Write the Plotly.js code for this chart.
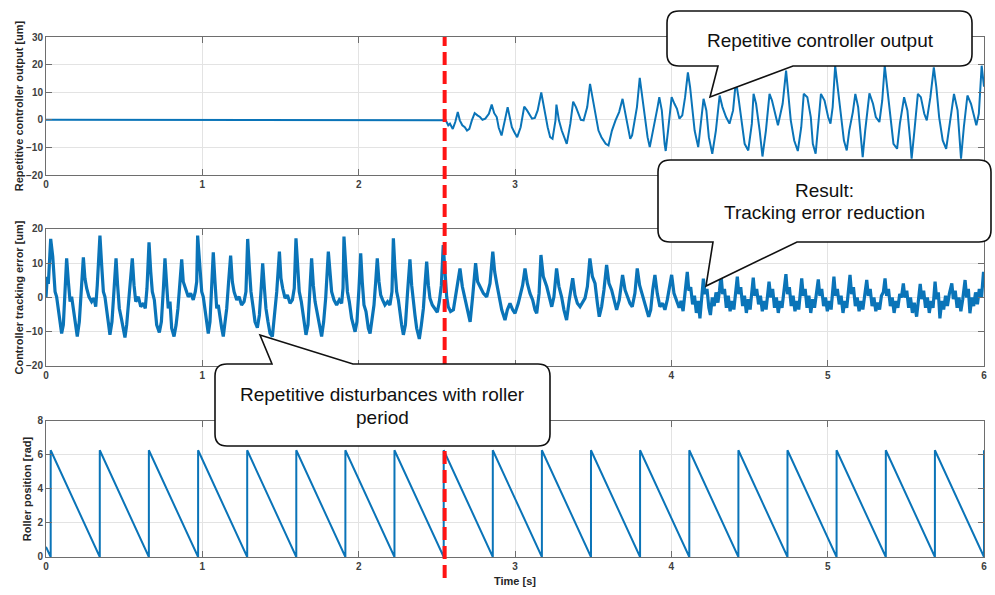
<!DOCTYPE html>
<html><head><meta charset="utf-8">
<script src="https://cdn.plot.ly/plotly-3.0.1.min.js"></script>
<style>html,body{margin:0;padding:0;background:#fff}#chart{width:995px;height:595px}</style>
</head><body><div id="chart"></div>
<script>
// ---------------- DATA ----------------
const eventTime = 2.55;   // switch-on time of the repetitive controller [s]

const outputT = [0,2.55,2.557,2.573,2.584,2.602,2.618,2.634,2.647,2.663,2.679,2.693,2.708,2.724,2.742,2.760,2.776,2.792,2.810,2.833,2.851,2.867,2.883,2.896,2.914,2.935,2.953,2.964,2.980,2.996,3.014,3.036,3.059,3.077,3.093,3.109,3.127,3.145,3.168,3.183,3.195,3.209,3.225,3.240,3.259,3.265,3.281,3.299,3.315,3.331,3.354,3.372,3.390,3.406,3.421,3.439,3.462,3.480,3.496,3.519,3.534,3.553,3.580,3.598,3.620,3.643,3.666,3.688,3.703,3.721,3.737,3.749,3.764,3.780,3.798,3.817,3.832,3.848,3.862,3.889,3.912,3.923,3.939,3.957,3.964,3.979,4.002,4.020,4.036,4.052,4.070,4.088,4.106,4.120,4.133,4.149,4.172,4.183,4.206,4.224,4.240,4.262,4.285,4.309,4.327,4.350,4.372,4.395,4.413,4.429,4.447,4.469,4.492,4.515,4.526,4.542,4.565,4.583,4.605,4.628,4.644,4.666,4.682,4.712,4.734,4.750,4.764,4.786,4.809,4.831,4.847,4.870,4.892,4.905,4.923,4.946,4.957,4.980,5.003,5.018,5.032,5.048,5.064,5.082,5.104,5.122,5.138,5.161,5.177,5.195,5.213,5.224,5.240,5.267,5.290,5.308,5.331,5.349,5.365,5.380,5.398,5.421,5.444,5.462,5.489,5.510,5.528,5.537,5.555,5.577,5.596,5.618,5.634,5.657,5.679,5.695,5.713,5.736,5.758,5.781,5.808,5.831,5.844,5.853,5.871,5.894,5.917,5.935,5.951,5.967,5.985,6.0];
const outputV = [0,0,-0.2,-2.0,-1.4,-3.3,-0.8,2.8,-0.2,-2.0,-2.7,-3.9,-3.3,-0.2,2.4,1.6,1.0,0,0.4,2.2,5.5,2.4,1.0,-2.9,-5.7,-0.2,4.6,1.6,-2.7,-4.5,-6.3,-2.7,4.8,3.4,1.6,0.4,0.7,3.4,9.9,4.6,1.6,-2.7,-6.3,-6.9,-0.2,5.5,-0.2,-3.9,-6.3,-8.7,-1.4,6.6,4.6,2.2,0,-0.2,4.6,13.0,7.6,1.0,-3.9,-6.3,-8.7,-9.3,-3.9,-0.2,2.8,7.6,3.4,-1.4,-6.9,-5.7,-0.2,4.6,15.2,7.0,-0.2,-6.3,-9.9,-2.7,4.6,8.2,3.4,-8.7,-11.3,-3.9,8.2,5.8,4.0,0.4,1.6,8.2,17.2,11.8,4.6,-3.9,-9.9,-4.5,7.6,3.4,-6.3,-12.3,-3.9,8.8,4.6,1.0,-1.4,3.4,14.2,8.2,-0.2,-8.7,-11.1,-1.4,9.4,5.8,-3.9,-13.3,-3.9,9.4,7.0,2.2,-2.0,5.8,17.8,8.2,-0.2,-7.5,-11.3,-2.7,9.4,8.2,1.0,-8.7,-12.3,2.2,9.4,7.0,1.0,-1.4,4.6,19.6,11.8,2.2,-7.5,-11.1,-3.9,2.8,9.4,4.6,-6.3,-13.5,-3.9,9.6,5.8,1.0,-0.8,7.0,19.6,11.8,1.0,-8.7,-10.5,-1.4,8.2,3.4,-7.5,-14.1,-3.9,9.4,8.2,2.2,-0.2,8.2,19.0,11.8,1.0,-7.5,-10.5,-1.4,9.4,3.4,-8.7,-14.1,-2.7,8.8,5.8,1.0,-2.0,2.2,19.6,12];

const errorT = [0,0.008,0.015,0.022,0.030,0.043,0.058,0.068,0.079,0.090,0.100,0.111,0.122,0.132,0.143,0.154,0.164,0.175,0.188,0.200,0.213,0.226,0.239,0.249,0.260,0.275,0.292,0.307,0.318,0.328,0.345,0.356,0.367,0.377,0.388,0.399,0.409,0.422,0.435,0.448,0.458,0.469,0.482,0.495,0.505,0.516,0.529,0.539,0.552,0.563,0.574,0.591,0.606,0.623,0.635,0.646,0.659,0.670,0.680,0.693,0.708,0.725,0.738,0.751,0.761,0.772,0.782,0.793,0.804,0.819,0.832,0.844,0.857,0.868,0.878,0.891,0.910,0.925,0.942,0.955,0.964,0.970,0.983,0.996,1.006,1.017,1.028,1.038,1.049,1.060,1.070,1.081,1.092,1.102,1.113,1.124,1.134,1.145,1.156,1.168,1.181,1.192,1.203,1.220,1.235,1.251,1.267,1.279,1.290,1.301,1.311,1.326,1.337,1.352,1.365,1.375,1.386,1.397,1.407,1.420,1.433,1.448,1.461,1.476,1.493,1.503,1.514,1.529,1.544,1.561,1.576,1.588,1.599,1.610,1.620,1.633,1.646,1.663,1.676,1.689,1.699,1.710,1.721,1.733,1.748,1.763,1.776,1.789,1.806,1.817,1.827,1.842,1.859,1.876,1.891,1.900,1.906,1.917,1.928,1.940,1.955,1.977,1.989,2.002,2.013,2.023,2.034,2.047,2.062,2.073,2.085,2.098,2.109,2.119,2.130,2.141,2.153,2.168,2.185,2.200,2.213,2.222,2.232,2.243,2.254,2.264,2.275,2.286,2.299,2.313,2.328,2.339,2.350,2.360,2.371,2.388,2.401,2.414,2.424,2.435,2.446,2.456,2.471,2.488,2.503,2.516,2.529,2.541,
2.553,2.563,2.573,2.588,2.606,2.623,2.648,2.663,2.680,2.695,2.713,2.729,2.748,2.761,2.776,2.798,2.819,2.840,2.858,2.870,2.883,2.900,2.915,2.936,2.951,2.968,2.985,3.000,3.021,3.049,3.064,3.079,3.096,3.113,3.128,3.139,3.154,3.166,3.181,3.203,3.220,3.235,3.249,3.266,3.281,3.298,3.313,3.330,3.347,3.369,3.384,3.399,3.416,3.433,3.448,3.463,3.479,3.495,3.512,3.527,3.539,3.554,3.569,3.586,3.601,3.618,3.633,3.650,3.667,3.688,3.704,3.718,3.735,3.750,3.767,3.782,3.797,3.812,3.827,3.842,3.855,3.868,3.881,3.895,3.910,3.927,3.944,3.959,3.974,3.991,4.002,4.017,4.034,
4.050,4.062,4.075,4.088,4.102,4.112,4.124,4.136,4.148,4.160,4.172,4.183,4.195,4.205,4.216,4.228,4.240,4.250,4.262,4.274,4.286,4.298,4.308,4.318,4.328,4.340,4.352,4.364,4.376,4.388,4.400,4.412,4.422,4.432,4.444,4.456,4.468,4.480,4.492,4.504,4.514,4.524,4.534,4.546,4.558,4.570,4.582,4.594,4.606,4.616,4.625,4.636,4.648,4.660,4.672,4.684,4.696,4.708,4.720,4.733,4.743,4.755,4.767,4.779,4.791,4.803,4.815,4.825,4.834,4.844,4.856,4.868,4.880,4.892,4.904,4.916,4.928,4.940,4.950,4.962,4.974,4.986,4.998,5.010,5.022,5.032,5.040,5.050,5.062,5.074,5.086,5.098,5.110,5.122,5.134,5.143,5.153,5.165,5.177,5.189,5.201,5.213,5.225,5.237,5.250,5.260,5.272,5.284,5.296,5.308,5.320,5.332,5.344,5.356,5.367,5.377,5.389,5.401,5.413,5.425,5.437,5.449,5.461,5.472,5.484,5.494,5.506,5.518,5.530,5.542,5.554,5.569,5.581,5.592,5.602,5.614,5.626,5.638,5.650,5.662,5.674,5.687,5.697,5.708,5.718,5.730,5.742,5.754,5.766,5.778,5.794,5.804,5.816,5.828,5.840,5.852,5.864,5.879,5.889,5.900,5.910,5.922,5.934,5.946,5.958,5.970,5.984,5.997,6.0];
const errorV = [0,6,4,10,17.1,12,1.7,0.2,-4.1,-7.1,-10.5,-8.0,1.7,11.4,4.6,-1.2,0.2,-3.2,-8.0,-11.4,-7.1,1.7,11.7,5.6,2.7,0.2,-1.2,-0.2,-2.7,3.6,18.1,9.5,1.7,0.2,-4.1,-8.0,-10.9,-7.1,2.7,11.4,3.6,-3.2,-6.1,-10.0,-11.7,-8.0,-1.2,4.6,11.4,3.6,-1.2,0.2,-2.7,-1.7,-3.2,2.7,16.1,7.5,1.7,-0.7,-8.0,-10.2,-7.1,2.7,11.4,3.6,-3.2,-1.2,-9.0,-11.4,-8.0,-3.2,3.6,11.1,4.6,2.7,0.2,1.2,-0.7,1.7,4.6,18.1,9.5,1.7,0.2,-4.1,-8.0,-10.5,-7.1,3.6,13.2,4.6,-3.2,-2.2,-6.6,-9.0,-11.4,-8.0,-3.2,4.6,12.2,4.6,1.7,-0.7,0.2,-2.2,-1.2,1.7,17.1,8.5,1.7,-3.2,-7.1,-8.8,-5.1,1.7,10.0,2.7,-3.2,-7.1,-10.5,-11.4,-6.1,1.7,13.4,5.6,2.7,-0.2,0.7,-1.7,-0.7,2.7,17.3,8.5,1.7,-1.2,-6.1,-10.9,-8.0,1.7,11.4,3.6,-1.2,-4.1,-8.0,-11.4,-7.1,-0.2,13.4,5.6,1.7,-0.7,-2.2,-0.7,-1.7,2.7,17.8,9.5,1.7,-1.2,-6.1,-10.0,-7.1,2.7,12.9,4.6,-2.2,-4.1,-9.0,-10.5,-7.1,-2.2,4.6,11.4,4.6,0.7,-0.7,-2.2,-1.2,-2.2,1.7,17.3,8.5,1.7,-0.7,-5.1,-8.0,-10.9,-8.0,1.7,11.1,3.6,-2.2,-5.1,-9.0,-12.1,-8.0,-3.2,3.6,10.5,3.6,-0.2,-2.2,-3.2,-4.3,-1.2,3.6,15.3,
6.1,0.2,-2.7,-4.1,-3.6,1.2,8.5,3.2,-0.7,-3.6,-7.1,0.2,10.0,4.6,3.2,1.2,0.2,4.1,13.4,7.5,4.1,0.2,-3.6,-6.6,-3.6,-1.7,-3.6,-4.6,-1.7,3.6,8.5,4.1,1.2,-0.7,-3.6,-4.6,1.2,12.4,6.1,3.2,-0.2,-2.7,0.2,8.5,3.2,0.2,-3.6,-6.6,-0.7,5.6,0.7,-1.7,-2.7,-1.2,-0.2,3.2,11.4,6.1,4.1,-1.7,-5.6,-2.7,2.2,9.5,4.1,2.2,-0.7,-3.6,-0.7,6.6,2.2,0.7,-1.7,-2.7,1.2,8.5,3.6,1.2,-1.7,-3.6,-5.6,-3.6,2.2,6.6,1.2,-2.7,-1.7,-3.6,-0.7,3.2,6.6,1.2,-0.7,
-3.0,-1.0,-4.0,1.5,7.5,2.0,3.0,-2.0,0.5,-4.5,-1.0,-6.1,0.5,5.5,1.0,2.5,-3.0,-5.1,0.0,-2.5,1.5,-1.5,2.0,6.6,1.0,2.5,-3.0,0.5,-4.0,-1.0,-3.5,1.5,6.1,1.0,3.0,-2.5,0.5,-4.5,-0.5,-3.5,1.0,5.8,0.5,2.5,-2.0,0.5,-4.0,-1.0,-3.5,1.5,4.6,0.0,2.5,-3.0,0.0,-4.5,-1.0,-3.0,2.0,6.8,1.0,3.0,-2.5,0.5,-4.0,-1.0,-3.5,1.5,5.6,0.5,2.5,-3.0,0.5,-4.5,-0.5,-3.0,1.5,5.3,0.5,2.5,-2.5,0.0,-4.0,-1.0,-3.5,2.0,6.1,0.5,2.5,-2.0,0.5,-4.5,-1.0,-3.0,2.0,6.6,1.0,3.0,-2.5,0.0,-4.0,-1.0,-3.5,1.0,5.1,0.5,2.5,-2.5,0.0,-4.0,-1.5,-3.5,0.5,1.5,5.6,0.5,2.5,-2.5,0.0,-4.5,-1.0,-3.0,1.0,0.0,4.1,0.0,2.0,-3.0,0.0,-4.5,-1.5,-5.6,0.0,4.0,-0.5,2.0,-3.0,0.0,-4.5,-1.0,-3.0,4.6,-0.5,1.5,-6.1,-1.0,-3.5,0.5,-2.5,1.0,4.1,-0.5,2.0,-3.0,0.0,-4.0,-0.5,5.1,0.0,2.5,-4.6,0.0,-2.5,1.5,-2.0,2.5,0.0,7.5,3.0];

const rollerT = [0,0.03,0.03,0.344,0.344,0.658,0.658,0.973,0.973,1.287,1.287,1.601,1.601,1.915,1.915,2.229,2.229,2.544,2.544,2.858,2.858,3.172,3.172,3.486,3.486,3.800,3.800,4.115,4.115,4.429,4.429,4.743,4.743,5.057,5.057,5.372,5.372,5.686,5.686,6.0,6.0];
const rollerV = [0.6,0,6.28,0,6.28,0,6.28,0,6.28,0,6.28,0,6.28,0,6.28,0,6.28,0,6.28,0,6.28,0,6.28,0,6.28,0,6.28,0,6.28,0,6.28,0,6.28,0,6.28,0,6.28,0,6.28,0,6.28];

const yTitles = ["Repetitive controller output [um]", "Controller tracking error [um]", "Roller position [rad]"];
const xTitle = "Time [s]";
const xTickVals = [0, 1, 2, 3, 4, 5, 6];
// tick labels that the callout boxes hide in the reference are left blank
const xTickText1 = ["0", "1", "2", "3", "", "", ""];
const xTickText2 = ["0", "1", "", "", "4", "5", "6"];
const xTickText3 = ["0", "1", "2", "3", "4", "5", "6"];
const calloutLines = ["Repetitive controller output", "Result:", "Tracking error reduction", "Repetitive disturbances with roller", "period"];

// ---------------- LAYOUT / STYLE ----------------
const W = 995, H = 595, M = {l:46, r:11, t:37, b:38, pad:0};
const pw = W - M.l - M.r, ph = H - M.t - M.b;
const px = x => ((x - M.l) / pw).toFixed(5);
const py = y => ((H - M.b - y) / ph).toFixed(5);
const P = (x, y) => px(x) + ',' + py(y);

function calloutPath(L, T, R, B, r, tail) {
  let d = 'M' + P(L + r, T);
  if (tail.side === 'top') d += ' L' + P(tail.a, T) + ' L' + P(tail.tip[0], tail.tip[1]) + ' L' + P(tail.b, T);
  d += ' L' + P(R - r, T) + ' Q' + P(R, T) + ' ' + P(R, T + r);
  d += ' L' + P(R, B - r) + ' Q' + P(R, B) + ' ' + P(R - r, B);
  if (tail.side === 'bottom') d += ' L' + P(tail.b, B) + ' L' + P(tail.tip[0], tail.tip[1]) + ' L' + P(tail.a, B);
  d += ' L' + P(L + r, B) + ' Q' + P(L, B) + ' ' + P(L, B - r);
  d += ' L' + P(L, T + r) + ' Q' + P(L, T) + ' ' + P(L + r, T) + ' Z';
  return d;
}

const lineColor = '#0a74b8';
const fontFam = 'Liberation Sans, Arial, Helvetica, sans-serif';
const tickFont = {family: fontFam, size: 10, color: '#404040', weight: 'bold'};
const titleFont = {family: fontFam, size: 11, color: '#262626', weight: 'bold'};

const xRange = [0, 6];
function xAx(anchor, ticktext, withTitle) {
  const a = {range: xRange, tickmode: 'array', tickvals: xTickVals, ticktext: ticktext, anchor: anchor, domain: [0, 1],
    showgrid: true, gridcolor: '#e3e3e3', gridwidth: 1, zeroline: false,
    showline: true, linecolor: '#6e6e6e', linewidth: 1, mirror: 'ticks',
    ticks: 'inside', ticklen: 6, tickcolor: '#6e6e6e', tickfont: tickFont, fixedrange: true};
  if (withTitle) a.title = {text: xTitle, font: titleFont, standoff: 6};
  return a;
}
function yAx(anchor, dom, range, dtick, title, standoff) {
  return {domain: dom, range: range, dtick: dtick, anchor: anchor,
    showgrid: true, gridcolor: '#e3e3e3', gridwidth: 1, zeroline: false,
    showline: true, linecolor: '#6e6e6e', linewidth: 1, mirror: 'ticks',
    ticks: 'inside', ticklen: 6, tickcolor: '#6e6e6e', tickfont: tickFont,
    title: {text: title, font: titleFont, standoff: standoff}, fixedrange: true};
}
const dom1 = [+py(175), 1], dom2 = [+py(366), +py(229)], dom3 = [0, +py(421)];

const traces = [
  {x: outputT, y: outputV, xaxis: 'x', yaxis: 'y', type: 'scatter', mode: 'lines',
   line: {color: lineColor, width: 2}, hoverinfo: 'skip'},
  {x: errorT, y: errorV, xaxis: 'x2', yaxis: 'y2', type: 'scatter', mode: 'lines',
   line: {color: lineColor, width: 3.2}, hoverinfo: 'skip'},
  {x: rollerT, y: rollerV, xaxis: 'x3', yaxis: 'y3', type: 'scatter', mode: 'lines',
   line: {color: lineColor, width: 2}, hoverinfo: 'skip'}
];

const evX = ((eventTime - xRange[0]) / (xRange[1] - xRange[0])).toFixed(5);
const boxStyle = {color: '#111', width: 1.6};
const shapes = [
  {type: 'line', xref: 'paper', yref: 'paper', x0: evX, x1: evX, y0: py(578), y1: py(37),
   line: {color: '#ff1414', width: 4, dash: '13px,6px'}, layer: 'above'},
  {type: 'path', xref: 'paper', yref: 'paper', layer: 'above', fillcolor: '#fff', line: boxStyle,
   path: calloutPath(667, 11, 972, 66, 12, {side: 'bottom', a: 718, b: 793, tip: [710, 97]})},
  {type: 'path', xref: 'paper', yref: 'paper', layer: 'above', fillcolor: '#fff', line: boxStyle,
   path: calloutPath(658, 160, 991, 242, 12, {side: 'bottom', a: 713, b: 797, tip: [706, 286]})},
  {type: 'path', xref: 'paper', yref: 'paper', layer: 'above', fillcolor: '#fff', line: boxStyle,
   path: calloutPath(215, 364, 550, 446, 12, {side: 'top', a: 272, b: 353, tip: [260, 335]})}
];

const calloutFont = {family: fontFam, size: 19, color: '#111'};
const annPos = [[820, 41], [825, 191], [825, 213], [382, 395], [382, 418]];
const annotations = calloutLines.map((t, i) => ({
  text: t, xref: 'paper', yref: 'paper', x: px(annPos[i][0]), y: py(annPos[i][1]),
  xanchor: 'center', yanchor: 'middle', showarrow: false, font: calloutFont, align: 'center'
}));

const layout = {
  width: W, height: H, margin: M, paper_bgcolor: '#fff', plot_bgcolor: '#fff',
  showlegend: false, font: {family: fontFam},
  xaxis: xAx('y', xTickText1, false), xaxis2: xAx('y2', xTickText2, false), xaxis3: xAx('y3', xTickText3, true),
  yaxis: yAx('x', dom1, [-20, 30], 10, yTitles[0], 0),
  yaxis2: yAx('x2', dom2, [-20, 20], 10, yTitles[1], 0),
  yaxis3: yAx('x3', dom3, [0, 8], 2, yTitles[2], 3),
  shapes: shapes, annotations: annotations
};

Plotly.newPlot('chart', traces, layout, {staticPlot: true, displayModeBar: false});
</script>
</body></html>
